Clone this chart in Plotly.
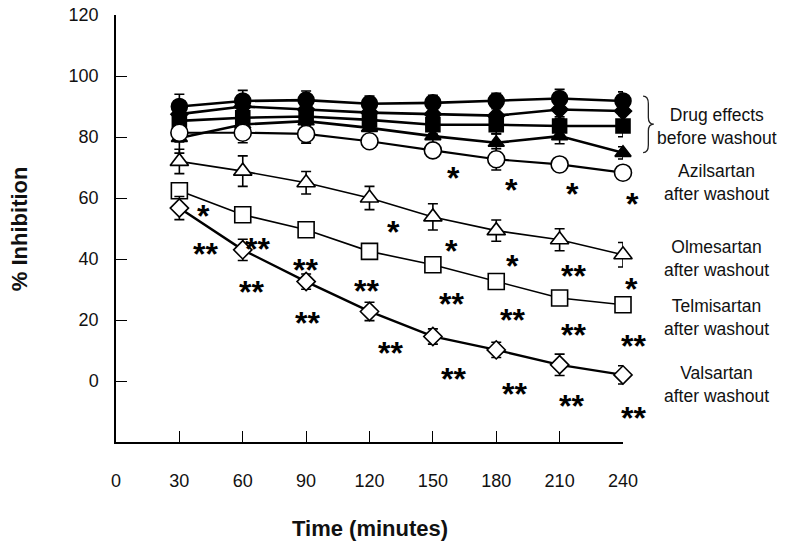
import plotly.graph_objects as go

# ---------------- data ----------------
time_min = [30, 60, 90, 120, 150, 180, 210, 240]

# before washout (filled markers)
drug_circle = [90.0, 91.8, 92.1, 90.9, 91.2, 91.8, 92.6, 91.8]
drug_circle_err = [4, 3.5, 3, 2.5, 2.5, 2.5, 3, 3]
drug_diamond = [87.5, 90.0, 89.0, 88.0, 87.5, 87.0, 89.0, 88.5]
drug_diamond_err = [3, 3, 3, 3, 3, 3, 3, 3]
drug_square = [85.3, 86.3, 86.7, 85.6, 84.0, 84.0, 83.6, 83.6]
drug_square_err = [3, 3, 3, 3, 3, 3, 3, 3.5]
drug_triangle = [79.7, 84.1, 85.2, 83.0, 80.3, 78.1, 80.3, 74.8]
drug_triangle_err = [5, 3, 3, 3, 3, 3, 2.5, 2]

# after washout (open markers)
azil = [81.4, 81.4, 81.0, 78.6, 75.6, 72.7, 71.0, 68.3]
azil_err = [3, 3.3, 3, 2, 2, 3.5, 2, 2]
olme = [72.0, 68.8, 65.0, 60.0, 53.8, 49.3, 46.3, 41.4]
olme_err = [4, 5, 3.7, 3.8, 4.3, 3.5, 3.6, 4]
telmi = [62.4, 54.5, 49.6, 42.5, 38.1, 32.6, 27.2, 25.0]
telmi_err = [2, 1.5, 1.5, 1.5, 1.5, 1.5, 1.5, 1.5]
vals = [56.7, 43.0, 32.6, 22.8, 14.6, 10.2, 5.3, 2.0]
vals_err = [3.8, 3.5, 2.5, 3, 2.5, 2.5, 3.5, 3]

# significance marks
azil_sig_x = [159.7, 187.0, 216.0, 244.4]
azil_sig_y = [68.3, 64.4, 62.8, 59.7]
azil_sig_t = ["*", "*", "*", "*"]
olme_sig_x = [131.3, 158.6, 187.9, 216.6, 244.2]
olme_sig_y = [50.5, 44.4, 39.2, 36.1, 31.9]
olme_sig_t = ["*", "*", "*", "**", "*"]
telmi_sig_x = [41.5, 67.2, 89.9, 118.4, 158.6, 187.5, 216.6, 245.2]
telmi_sig_y = [55.6, 45.0, 38.1, 31.3, 26.8, 21.5, 16.8, 13.2]
telmi_sig_t = ["*", "**", "**", "**", "**", "**", "**", "**"]
vals_sig_x = [42.3, 64.3, 90.5, 129.9, 159.9, 188.6, 215.6, 245.2]
vals_sig_y = [43.3, 30.7, 20.6, 10.7, 2.3, -2.7, -6.7, -10.6]
vals_sig_t = ["**"] * 8

# right-hand labels
label_texts = ["Drug effects<br>before washout", "Azilsartan<br>after washout",
               "Olmesartan<br>after washout", "Telmisartan<br>after washout",
               "Valsartan<br>after washout"]
label_x = 284.3
label_y = [83.3, 65.1, 40.3, 20.8, -1.0]

x_ticks = [0, 30, 60, 90, 120, 150, 180, 210, 240]
y_ticks = [0, 20, 40, 60, 80, 100, 120]
X_RANGE = [0, 240]
Y_RANGE = [-20, 120]

# ---------------- figure ----------------
FONT = "Arial, 'Liberation Sans', Helvetica, sans-serif"
BLACK = "#000000"


def px(x):
    """data x -> paper x (annotations outside the axis range need paper refs)"""
    return (x - X_RANGE[0]) / (X_RANGE[1] - X_RANGE[0])


def py(y):
    return (y - Y_RANGE[0]) / (Y_RANGE[1] - Y_RANGE[0])


fig = go.Figure()


def add_series(y, err, symbol, size, filled, lw):
    fig.add_trace(go.Scatter(
        x=time_min, y=y, mode="lines+markers",
        line=dict(color=BLACK, width=lw),
        marker=dict(symbol=symbol, size=size,
                    color=BLACK if filled else "white",
                    line=dict(color=BLACK, width=1.6)),
        error_y=dict(type="data", array=err, visible=True,
                     color=BLACK, thickness=1.6, width=5),
        cliponaxis=False, showlegend=False, hoverinfo="skip"))


add_series(drug_triangle, drug_triangle_err, "triangle-up", 14, True, 2.6)
add_series(drug_square, drug_square_err, "square", 14, True, 2.6)
add_series(drug_diamond, drug_diamond_err, "diamond", 13, True, 2.6)
add_series(drug_circle, drug_circle_err, "circle", 16, True, 2.6)
add_series(azil, azil_err, "circle", 17, False, 2.2)
add_series(olme, olme_err, "triangle-up", 16, False, 1.6)
add_series(telmi, telmi_err, "square", 16, False, 1.6)
add_series(vals, vals_err, "diamond", 14, False, 2.4)

annotations = []
for xs, ys, ts in [(azil_sig_x, azil_sig_y, azil_sig_t),
                   (olme_sig_x, olme_sig_y, olme_sig_t),
                   (telmi_sig_x, telmi_sig_y, telmi_sig_t),
                   (vals_sig_x, vals_sig_y, vals_sig_t)]:
    for xv, yv, tv in zip(xs, ys, ts):
        annotations.append(dict(
            x=px(xv), y=py(yv), xref="paper", yref="paper", text="<b>" + tv + "</b>",
            showarrow=False,
            font=dict(family=FONT, size=32, color=BLACK),
            xanchor="center", yanchor="middle", yshift=-5))

for t, yv in zip(label_texts, label_y):
    annotations.append(dict(
        x=px(label_x), y=py(yv), xref="paper", yref="paper", text=t, showarrow=False,
        font=dict(family=FONT, size=17.5, color="#111111"),
        xanchor="center", yanchor="middle", align="center"))

# axis titles
annotations.append(dict(
    x=0.5, y=-0.203, xref="paper", yref="paper", text="<b>Time (minutes)</b>",
    showarrow=False, font=dict(family=FONT, size=22, color="#111111"),
    xanchor="center", yanchor="middle"))
annotations.append(dict(
    x=-0.19, y=0.5, xref="paper", yref="paper", text="<b>% Inhibition</b>",
    showarrow=False, textangle=-90, font=dict(family=FONT, size=22, color="#111111"),
    xanchor="center", yanchor="middle"))

# curly brace grouping the "before washout" curves
bx0, bx1, bx2 = px(249.5), px(252.0), px(254.6)
by_top, by_mid, by_bot = py(93.4), py(84.2), py(74.9)
dy1, dy2 = py(2.5) - py(0), py(2.2) - py(0)
brace = (f"M {bx0},{by_top} Q {bx1},{by_top} {bx1},{by_top-dy1} "
         f"L {bx1},{by_mid+dy2} Q {bx1},{by_mid} {bx2},{by_mid} "
         f"Q {bx1},{by_mid} {bx1},{by_mid-dy2} "
         f"L {bx1},{by_bot+dy1} Q {bx1},{by_bot} {bx0},{by_bot}")

fig.update_layout(
    width=789, height=551,
    margin=dict(l=116, r=166, t=15, b=109, autoexpand=False),
    paper_bgcolor="white", plot_bgcolor="white",
    annotations=annotations,
    shapes=[dict(type="path", path=brace, xref="paper", yref="paper",
                 line=dict(color="#222222", width=1.3))],
    xaxis=dict(range=X_RANGE, tickvals=x_ticks, ticktext=[str(v) for v in x_ticks],
               showline=True, linecolor=BLACK, linewidth=1.5,
               ticks="inside", ticklen=11, tickwidth=1.3, tickcolor=BLACK,
               showgrid=False, zeroline=False, automargin=False,
               ticklabeloverflow="allow",
               tickfont=dict(family=FONT, size=18, color="#111111"),
               ticklabelstandoff=22),
    yaxis=dict(range=Y_RANGE, tickvals=y_ticks,
               showline=True, linecolor=BLACK, linewidth=1.5,
               ticks="inside", ticklen=11, tickwidth=1.3, tickcolor=BLACK,
               showgrid=False, zeroline=False, automargin=False,
               ticklabeloverflow="allow",
               tickfont=dict(family=FONT, size=18, color="#111111"),
               ticklabelstandoff=12),
)

# remove the default 8px page margin so the figure sits at the window origin
fig.write_html("out.html", config={"displayModeBar": False},
               post_script="document.body.style.margin='0';")
